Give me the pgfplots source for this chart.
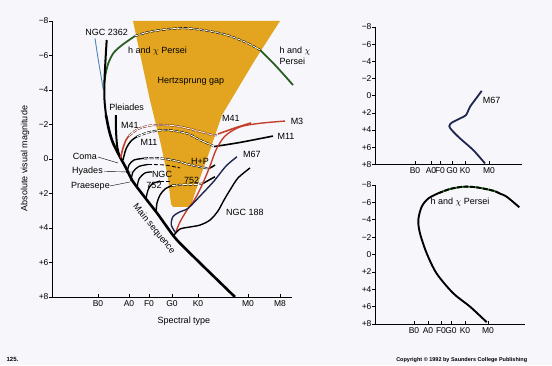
\documentclass[border=0pt]{standalone}
\usepackage{pgfplots}
\pgfplotsset{compat=1.18}
\usepackage{fontspec}
\setmainfont{Liberation Sans}
\definecolor{gapcol}{HTML}{E3A520}
\definecolor{bg}{HTML}{F7F7FB}
\definecolor{hxgreen}{HTML}{2A5E22}
\definecolor{mred}{HTML}{C4402C}
\definecolor{mnavy}{HTML}{1E2650}
\definecolor{bluel}{HTML}{4A86B8}
\pgfplotsset{
  hrax/.style={scale only axis, axis x line*=bottom, axis y line*=left,
    y dir=reverse, ymin=-8, ymax=8, ytick={-8,-6,...,8},
    yticklabels={−8,−6,−4,−2,0,+2,+4,+6,+8},
    tick align=inside, major tick length=3pt, ytick style={xshift=-3pt},
    axis line style={line width=0.6pt,-}, every tick/.style={line width=0.6pt,black},
    tick label style={font=\fontsize{8.5}{9}\selectfont},
    clip=false},
  gapd/.style={draw=black, line width=0.55pt, double=white, double distance=0.9pt,
    dash pattern=on 4pt off 1.5pt, smooth}
}
\begin{document}
\begin{tikzpicture}[x=1pt,y=1pt,font=\fontsize{9}{10}\selectfont]
\fill[bg] (0,0) rectangle (552,365);
% ---------------- main diagram ----------------
\begin{axis}[hrax, at={(172pt,206pt)}, anchor=center, width=240pt, height=276pt,
  xmin=52, xmax=292, xtick={98,129,149,172,198,248,280},
  xticklabels={B0,A0,F0,G0,K0,M0,M8}]
% Hertzsprung gap
\addplot[fill=gapcol, draw=none] coordinates {(133,-8) (280,-8) (255,-5.74) (222,-2.55) (210,-0.52) (200,1.10) (191,2.67) (189,2.78) (173,2.78) (171,2.61) (168,1.10) (161,-0.81) (150,-3.40) (133,-8)};
% blue thin line
\addplot[bluel, line width=0.9pt, smooth] coordinates {(95,-6.99) (98.3,-5.74) (101.7,-4.58) (103.3,-4.0)};
% h and chi Persei
\addplot[hxgreen, line width=1.8pt, smooth] coordinates {(104.5,-4.4) (105.5,-4.9) (108.3,-5.55) (113.3,-6.13) (120,-6.51) (126.7,-6.80) (135,-7.13)};
\addplot[gapd] coordinates {(135,-7.13) (150,-7.38) (170,-7.54) (186.7,-7.58) (206.7,-7.44) (226.7,-7.19) (246.7,-6.74) (260,-6.32)};
\addplot[hxgreen, line width=1.8pt, smooth] coordinates {(260,-6.32) (275,-5.45) (293,-4.29)};
% NGC 2362 / main sequence
\addplot[black, line width=2pt, smooth] coordinates {(106.7,-6.90) (105.5,-5.74) (104.5,-4.58) (104.5,-3.42) (106,-2.55)};
\addplot[black, line width=2.6pt, smooth] coordinates {(106,-2.55) (109,-1.68) (113,-0.93) (120,-0.12) (126,0.52) (132,1.22) (140,1.86) (150,2.61) (157,3.13) (167,3.94) (177,4.70) (200,6.03) (235,8.0)};
% Pleiades
\addplot[black, line width=2pt, smooth] coordinates {(116,-2.55) (116,-1.68) (117,-0.81) (119,-0.23)};
% M41
\addplot[mred, line width=1.6pt, smooth] coordinates {(120.5,-0.05) (123,-0.64) (126,-1.10) (129,-1.35)};
\addplot[gapd, draw=mred!60!black] coordinates {(129,-1.35) (138,-1.74) (150,-1.94) (165,-1.97) (180,-1.88) (200,-1.59) (213,-1.39) (218,-1.40)};
\addplot[mred, line width=1.6pt, smooth] coordinates {(218,-1.45) (235,-1.80) (251,-2.09)};
% M11
\addplot[black, line width=1.5pt, smooth] coordinates {(123,0.06) (126,-0.58) (131,-1.04) (137,-1.30)};
\addplot[gapd] coordinates {(137,-1.30) (150,-1.57) (167,-1.68) (187,-1.48) (200,-1.10) (213,-0.77)};
\addplot[black, line width=1.6pt, smooth] coordinates {(214,-0.72) (240,-0.96) (273,-1.33)};
% H+P
\addplot[black, line width=1.4pt, smooth] coordinates {(127,0.81) (129,0.35) (134,0.06) (144,-0.04)};
\addplot[gapd] coordinates {(144,-0.04) (160,-0.04) (175,0.09) (191,0.35) (208,0.55)};
\addplot[black, line width=1.5pt, smooth] coordinates {(208,0.58) (212,0.46) (215,0.35)};
% other turn-offs near the main sequence
\addplot[black, line width=1.3pt, smooth] coordinates {(131,1.28) (133,0.75) (139,0.43) (148,0.32)};
\addplot[black, line width=0.8pt, dash pattern=on 4pt off 2pt, smooth] coordinates {(148,0.32) (165,0.35) (180,0.52)};
\addplot[black, line width=1.3pt, smooth] coordinates {(137,1.68) (139,1.16) (145,0.81) (152,0.75)};
\addplot[black, line width=1.3pt, smooth] coordinates {(146,2.32) (148,1.80) (152,1.45) (160,1.28)};
\addplot[black, line width=0.8pt, dash pattern=on 4pt off 2pt, smooth] coordinates {(160,1.28) (170,1.28)};
% NGC 752
\addplot[black, line width=1.4pt, smooth] coordinates {(156,3.13) (157,2.55) (160,2.09) (165,1.74) (172,1.54)};
\addplot[gapd] coordinates {(172,1.54) (185,1.48) (195,1.48) (203,1.42)};
\addplot[black, line width=1.5pt, smooth] coordinates {(203,1.42) (209,1.22) (215,1.03)};
% M3
\addplot[mred, line width=1.4pt, smooth] coordinates {(176,4.21) (180,3.65) (187,2.96) (195,2.32) (203,1.39) (210,0.41) (216,-0.52) (225,-1.33) (240,-1.86) (260,-2.07) (285,-2.20)};
% M67
\addplot[mnavy, line width=1.4pt, smooth] coordinates {(176,4.31) (171.3,3.83) (173,3.34) (180,3.06) (188,2.86) (201,2.09) (214,1.28) (226,0.41) (237,-0.13)};
% NGC 188
\addplot[black, line width=1.4pt, smooth] coordinates {(174,4.41) (180,4.06) (190,3.94) (200,3.83) (210,3.54) (218,3.01) (224,2.38) (230,1.80) (238,1.10) (250,0.52)};
\end{axis}
% ---------------- top right: M67 ----------------
\begin{axis}[hrax, at={(448.5pt,269.35pt)}, anchor=center, width=147pt, height=137.3pt,
  xmin=375, xmax=522, xtick={415,431,440,452,465,489},
  xticklabels={B0,A0,F0,G0,K0,M0}]
\addplot[mnavy, line width=1.8pt, smooth] coordinates {(481.7,-0.56) (476,0.35) (470,1.30) (466,2.27) (460,2.65) (451.7,3.16) (449.3,3.55) (451.7,4.01) (460,4.98) (473.3,6.35) (485,7.90)};
\end{axis}
% ---------------- bottom right: h and chi Persei ----------------
\begin{axis}[hrax, at={(450pt,110.5pt)}, anchor=center, width=150pt, height=139pt,
  xmin=375, xmax=525, xtick={414,428,441,451,465,488},
  xticklabels={B0,A0,F0,G0,K0,M0}]
\addplot[black, line width=1.9pt, smooth] coordinates {(486.7,7.79) (470,6.0) (453.3,4.47) (436.7,2.2) (426.7,-0.14) (420,-2.43) (418.3,-3.97) (421.7,-5.5) (428.3,-6.45) (438.3,-7.05)};
\addplot[hxgreen!80!green, line width=1.9pt, smooth] coordinates {(438.3,-7.05) (450,-7.54) (463.3,-7.8) (476.7,-7.73) (493.3,-7.34) (500,-7.0)};
\addplot[black, line width=1.9pt, dash pattern=on 5pt off 1.5pt, smooth] coordinates {(438.3,-7.05) (450,-7.54) (463.3,-7.8) (476.7,-7.73) (493.3,-7.34) (500,-7.0)};
\addplot[black, line width=1.9pt, smooth] coordinates {(500,-7.0) (506.7,-6.65) (519.3,-5.44)};
\end{axis}
% ---------------- labels ----------------
\node at (106.7,333) {NGC 2362};
\node at (157.5,314) {h and $\chi$ Persei};
\node at (190.8,284) {Hertzsprung gap};
\node[anchor=west] at (276,314) {h and $\chi$};
\node[anchor=west] at (276,304) {Persei};
\node at (126.7,258) {Pleiades};
\node at (130,240) {M41};
\node at (149,223) {M11};
\node at (231,247) {M41};
\node at (297,244) {M3};
\node at (286,229) {M11};
\node at (252,210.7) {M67};
\node at (200,203.3) {H+P};
\node at (191.7,185) {752};
\node at (162,191) {NGC};
\node at (154,180) {752};
\node at (245,153) {NGC 188};
\node[rotate=-51] at (154,136) {Main sequence};
\node at (85,209) {Coma};
\node at (87.5,193.5) {Hyades};
\node at (90.5,179) {Praesepe};
\draw[line width=0.4pt] (98,208) -- (118,202);
\draw[line width=0.4pt] (104,193.5) -- (132,193);
\draw[line width=0.4pt] (110,179) -- (130,183);
\node[rotate=90] at (25,206.5) {Absolute visual magnitude};
\node at (184,44) {Spectral type};
\node at (491.7,265) {M67};
\node at (460,162.7) {h and $\chi$ Persei};
\node[font=\fontsize{6}{7}\selectfont\bfseries] at (12.5,6) {125.};
\node[font=\fontsize{5.5}{6}\selectfont\bfseries] at (461.7,5) {Copyright © 1992 by Saunders College Publishing};
\end{tikzpicture}
\end{document}
